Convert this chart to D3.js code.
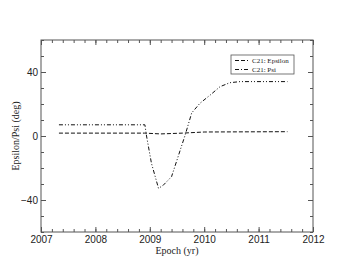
<!DOCTYPE html>
<meta charset="utf-8">
<style>
  body { margin: 0; background: #fff; }
  svg { font-family: "Liberation Serif", "DejaVu Serif", serif; }
  .frame { fill: none; stroke: #555; stroke-width: 1; }
  .tick line { stroke: #555; }
  .tick text { fill: #222; font-size: 10px; }
  .series { fill: none; stroke: #111; stroke-width: 1; }
</style>
<body>
<script src="https://d3js.org/d3.v7.min.js"></script>
<script>

// Epsilon curve (deg) against epoch (yr)
var epsYears = [2007.33, 2008.9, 2009.2, 2009.6, 2010.0, 2011.53];
var epsValues = [1.8, 1.8, 1.3, 1.8, 2.5, 2.7];

// Psi curve (deg) against epoch (yr)
var psiYears = [2007.33, 2008.91, 2008.94, 2009.03, 2009.16, 2009.24, 2009.40, 2009.56, 2009.65,
                2009.77, 2009.92, 2010.11, 2010.29, 2010.47, 2010.66, 2011.53];
var psiValues = [7, 7, 0, -17, -32.7, -31, -25.4, -8.75, 0.6,
                 14.4, 20.4, 25.6, 30.8, 33.3, 34, 34];

var xTicks = [2007, 2008, 2009, 2010, 2011, 2012];
var yTicks = [-40, 0, 40];
var seriesNames = ["C21: Epsilon", "C21: Psi"];

var margin = {top: 40, right: 40, bottom: 41, left: 41},
    W = 353, H = 273,
    width = W - margin.left - margin.right,
    height = H - margin.top - margin.bottom;

var x = d3.scaleLinear().domain([2007, 2012]).range([0, width]);
var y = d3.scaleLinear().domain([-60, 60]).range([height, 0]);

var svg = d3.select("body").append("svg")
    .attr("width", W)
    .attr("height", H)
  .append("g")
    .attr("transform", "translate(" + margin.left + "," + margin.top + ")");

var minorX = d3.range(2007, 2012.01, 0.2);
var minorY = d3.range(-60, 60.01, 10);

// minor ticks on all four sides, pointing inward
function minorAxis(axis, vals) {
  return axis.tickValues(vals).tickSize(-3).tickFormat("");
}
svg.append("g").attr("transform", "translate(0," + height + ")").call(minorAxis(d3.axisBottom(x), minorX));
svg.append("g").call(minorAxis(d3.axisTop(x), minorX));
svg.append("g").call(minorAxis(d3.axisLeft(y), minorY));
svg.append("g").attr("transform", "translate(" + width + ",0)").call(minorAxis(d3.axisRight(y), minorY));

// major ticks
svg.append("g").attr("class", "xaxis")
    .attr("transform", "translate(0," + height + ")")
    .call(d3.axisBottom(x).tickValues(xTicks).tickSize(-5).tickPadding(4).tickFormat(d3.format("d")));
svg.append("g").call(d3.axisTop(x).tickValues(xTicks).tickSize(-5).tickFormat(""));
svg.append("g").attr("class", "yaxis")
    .call(d3.axisLeft(y).tickValues(yTicks).tickSize(-5).tickPadding(3).tickFormat(d3.format("d")));
svg.append("g").attr("transform", "translate(" + width + ",0)")
    .call(d3.axisRight(y).tickValues(yTicks).tickSize(-5).tickFormat(""));

svg.selectAll(".domain").remove();
svg.append("rect").attr("class", "frame")
    .attr("x", 0).attr("y", 0).attr("width", width).attr("height", height);

// series
var line = d3.line().x(function(d) { return x(d[0]); }).y(function(d) { return y(d[1]); });

svg.append("path").attr("class", "series")
    .attr("stroke-dasharray", "4,2")
    .attr("d", line(d3.zip(epsYears, epsValues)));

svg.append("path").attr("class", "series")
    .attr("stroke-dasharray", "4,2,1,2,1,2")
    .attr("d", line(d3.zip(psiYears, psiValues)));

// axis titles
svg.append("text")
    .attr("x", width / 2).attr("y", height + 22)
    .attr("text-anchor", "middle").attr("font-size", 10).attr("fill", "#222")
    .text("Epoch (yr)");

svg.append("text")
    .attr("transform", "translate(-22," + (height / 2) + ") rotate(-90)")
    .attr("text-anchor", "middle").attr("font-size", 10).attr("fill", "#222")
    .text("Epsilon/Psi (deg)");

// legend
var lg = svg.append("g").attr("transform", "translate(190,15)");
lg.append("rect").attr("width", 63).attr("height", 19)
    .attr("fill", "#fff").attr("stroke", "#555").attr("stroke-width", 0.8);
var dashes = ["4,2", "4,2,1,2"];
seriesNames.forEach(function(name, i) {
  var yy = 5.5 + i * 9;
  lg.append("line").attr("x1", 4).attr("x2", 17).attr("y1", yy).attr("y2", yy)
      .attr("stroke", "#111").attr("stroke-dasharray", dashes[i]);
  lg.append("text").attr("x", 21).attr("y", yy + 2.3)
      .attr("font-size", 7).attr("fill", "#222").text(name);
});

</script>
</body>
